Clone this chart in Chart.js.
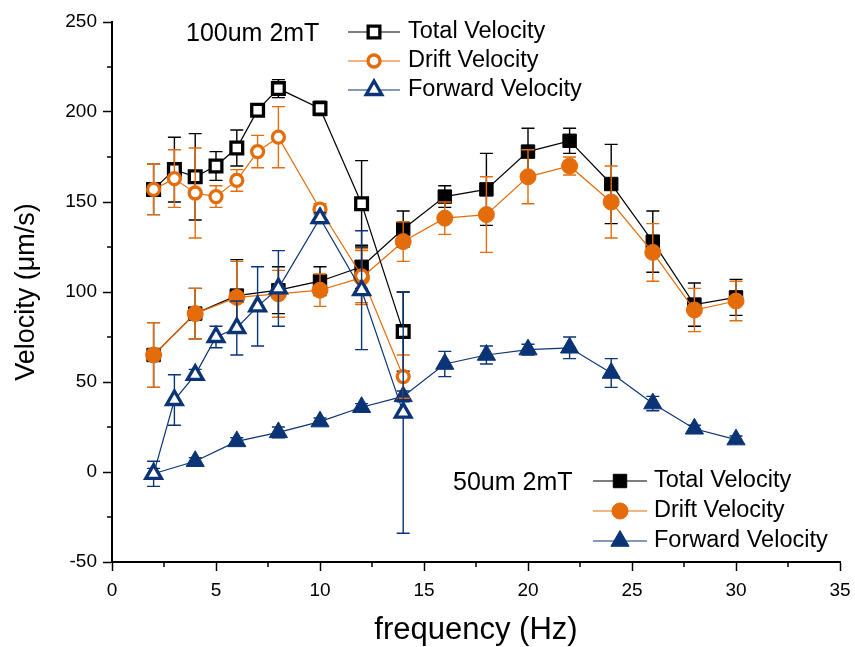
<!DOCTYPE html>
<html>
<head>
<meta charset="utf-8">
<script src="https://cdn.jsdelivr.net/npm/chart.js@4.4.0/dist/chart.umd.min.js"></script>
<style>
  html, body { margin: 0; padding: 0; background: #fff; }
</style>
</head>
<body>
<canvas id="chart" width="855" height="647"></canvas>
<script>
// ==== Data: 100um 2mT (open markers) ====
const freq100 = [2, 3, 4, 5, 6, 7, 8, 10, 12, 14];
const total100 = [157, 168, 164, 170, 180, 201, 213, 202, 149, 78];
const totalErr100 = [14, 18, 24, 8, 10, 3, 5, 4, 24, 22];
const drift100 = [157, 163, 155, 153, 162, 178, 186, 146, 109, 53];
const driftErr100 = [14, 16, 25, 6, 6, 9, 17, 3, 15, 12];
const fwd100 = [-1, 40, 54, 75, 80, 92, 102, 141, 101, 33];
const fwdErr100 = [7, 14, 3, 6, 15, 22, 21, 3, 33, 67];

// ==== Data: 50um 2mT (filled markers) ====
const freq50 = [2, 4, 6, 8, 10, 12, 14, 16, 18, 20, 22, 24, 26, 28, 30];
const total50 = [65, 88, 98, 101, 106, 114, 135, 153, 157, 178, 184, 160, 128, 93, 97];
const totalErr50 = [18, 14, 20, 13, 8, 12, 10, 6, 20, 13, 7, 22, 17, 12, 10];
const drift50 = [65, 88, 97, 99, 101, 108, 128, 141, 143, 164, 170, 150, 122, 90, 95];
const driftErr50 = [18, 14, 20, 13, 9, 15, 11, 9, 21, 15, 5, 20, 16, 12, 11];
const fwd50 = [-1, 6, 17, 22, 28, 36, 42, 60, 65, 68, 69, 55, 38, 24, 18];
const fwdErr50 = [3, 2, 2, 3, 2, 2, 3, 7, 5, 3, 6, 8, 4, 2, 2];

// ==== Axis / legend text ====
const xTitle = "frequency (Hz)";
const yTitle = "Velocity (\u03BCm/s)";
const group100 = "100um 2mT";
const group50 = "50um 2mT";
const seriesNames = ["Total Velocity", "Drift Velocity", "Forward Velocity"];

const BLACK = "#000000";
const ORANGE = "#E46C0A";
const BLUE = "#0B3476";
const FONT = "'Liberation Sans', Arial, sans-serif";

function pts(xs, ys) {
  return xs.map((x, i) => ({ x: x, y: ys[i] }));
}

// marker styles per series (kept apart from the data)
const styles = {
  total100: { pointStyle: "rect", radius: 8.3, fill: "#fff", color: BLACK, bw: 3.3 },
  drift100: { pointStyle: "circle", radius: 6, fill: "#fff", color: ORANGE, bw: 3.3 },
  fwd100: { pointStyle: "triangle", radius: 9, fill: "#fff", color: BLUE, bw: 3.3 },
  total50: { pointStyle: "rect", radius: 9.5, fill: BLACK, color: BLACK, bw: 1 },
  drift50: { pointStyle: "circle", radius: 8, fill: ORANGE, color: ORANGE, bw: 1 },
  fwd50: { pointStyle: "triangle", radius: 10.5, fill: BLUE, color: BLUE, bw: 1 }
};

function makeSet(label, xs, ys, errs, st, open) {
  return {
    label: label,
    data: pts(xs, ys),
    errors: errs,
    open: open,
    borderColor: st.color,
    backgroundColor: st.fill,
    borderWidth: 1.2,
    pointStyle: st.pointStyle,
    pointRadius: st.radius,
    pointBorderWidth: st.bw,
    pointBorderColor: st.color,
    pointBackgroundColor: st.fill,
    pointHoverRadius: st.radius,
    tension: 0,
    fill: false
  };
}

// index 0 is drawn on top
const datasets = [
  makeSet("100 Forward", freq100, fwd100, fwdErr100, styles.fwd100, true),
  makeSet("100 Drift", freq100, drift100, driftErr100, styles.drift100, true),
  makeSet("100 Total", freq100, total100, totalErr100, styles.total100, true),
  makeSet("50 Forward", freq50, fwd50, fwdErr50, styles.fwd50, false),
  makeSet("50 Drift", freq50, drift50, driftErr50, styles.drift50, false),
  makeSet("50 Total", freq50, total50, totalErr50, styles.total50, false)
];

// ==== Error bars ====
function drawErrors(chart, index) {
  const ds = chart.data.datasets[index];
  const meta = chart.getDatasetMeta(index);
  const yScale = chart.scales.y;
  const ctx = chart.ctx;
  ctx.save();
  ctx.strokeStyle = ds.borderColor;
  ctx.lineWidth = 1.4;
  meta.data.forEach((pt, i) => {
    const v = ds.data[i].y;
    const e = ds.errors[i];
    const top = yScale.getPixelForValue(v + e);
    const bot = yScale.getPixelForValue(v - e);
    const x = pt.x;
    ctx.beginPath();
    ctx.moveTo(x, top); ctx.lineTo(x, bot);
    ctx.moveTo(x - 6.5, top); ctx.lineTo(x + 6.5, top);
    ctx.moveTo(x - 6.5, bot); ctx.lineTo(x + 6.5, bot);
    ctx.stroke();
  });
  ctx.restore();
}

const errorBars = {
  id: "errorBars",
  beforeDatasetDraw(chart, args) {
    if (chart.data.datasets[args.index].open) drawErrors(chart, args.index);
  },
  afterDatasetDraw(chart, args) {
    if (!chart.data.datasets[args.index].open) drawErrors(chart, args.index);
  }
};

// ==== Minor ticks ====
const minorTicks = {
  id: "minorTicks",
  afterDraw(chart) {
    const ctx = chart.ctx;
    const xs = chart.scales.x, ys = chart.scales.y;
    const area = chart.chartArea;
    ctx.save();
    ctx.strokeStyle = BLACK;
    ctx.lineWidth = 1.5;
    ctx.beginPath();
    for (let v = 2.5; v < 35; v += 5) {
      const px = xs.getPixelForValue(v);
      ctx.moveTo(px, area.bottom); ctx.lineTo(px, area.bottom + 5);
    }
    for (let v = -25; v < 250; v += 50) {
      const py = ys.getPixelForValue(v);
      ctx.moveTo(area.left, py); ctx.lineTo(area.left - 5, py);
    }
    ctx.stroke();
    ctx.restore();
  }
};

// ==== Two legend blocks inside the plot ====
function drawBlock(chart, title, titleX, rowY, lineX0, lineX1, textX, setIdx) {
  const ctx = chart.ctx;
  ctx.save();
  ctx.textBaseline = "middle";
  ctx.textAlign = "left";
  ctx.fillStyle = BLACK;
  ctx.font = "25px " + FONT;
  ctx.fillText(title, titleX, rowY[0] + 2);
  ctx.font = "23.5px " + FONT;
  setIdx.forEach((di, r) => {
    const ds = chart.data.datasets[di];
    const y = rowY[r];
    ctx.strokeStyle = ds.borderColor;
    ctx.lineWidth = 1.2;
    ctx.beginPath();
    ctx.moveTo(lineX0, y); ctx.lineTo(lineX1, y);
    ctx.stroke();
    ctx.fillStyle = ds.pointBackgroundColor;
    ctx.strokeStyle = ds.pointBorderColor;
    ctx.lineWidth = ds.pointBorderWidth;
    Chart.helpers.drawPoint(ctx, {
      pointStyle: ds.pointStyle,
      radius: ds.pointRadius,
      rotation: 0,
      borderWidth: ds.pointBorderWidth
    }, (lineX0 + lineX1) / 2, y);
    ctx.fillStyle = BLACK;
    ctx.fillText(seriesNames[r], textX, y);
  });
  ctx.restore();
}

const legends = {
  id: "legends",
  afterDraw(chart) {
    drawBlock(chart, group100, 186, [32, 61, 90], 348, 400, 408, [2, 1, 0]);
    drawBlock(chart, group50, 453, [481, 511, 541], 593, 647, 654, [5, 4, 3]);
  }
};

Chart.defaults.font.family = FONT;
Chart.defaults.color = BLACK;

new Chart(document.getElementById("chart"), {
  type: "line",
  data: { datasets: datasets },
  plugins: [errorBars, minorTicks, legends],
  options: {
    responsive: false,
    animation: false,
    devicePixelRatio: 1,
    layout: { padding: { top: 22, right: 15, left: 0, bottom: 0 } },
    plugins: {
      legend: { display: false },
      tooltip: { enabled: false }
    },
    scales: {
      x: {
        type: "linear",
        min: 0,
        max: 35,
        ticks: { stepSize: 5, font: { size: 19 }, color: BLACK, padding: 8 },
        grid: { drawOnChartArea: false, drawTicks: true, tickLength: 9, tickWidth: 1.5, tickColor: BLACK },
        border: { color: BLACK, width: 2 },
        title: { display: true, text: xTitle, font: { size: 31, lineHeight: 1 }, color: BLACK, padding: { top: 0, bottom: 1 } },
        afterFit(scale) {
          scale.height = 85;
          scale.paddingRight = 0;
          scale.paddingLeft = 0;
        }
      },
      y: {
        type: "linear",
        min: -50,
        max: 250,
        ticks: { stepSize: 50, font: { size: 19 }, color: BLACK, padding: 6 },
        grid: { drawOnChartArea: false, drawTicks: true, tickLength: 9, tickWidth: 1.5, tickColor: BLACK },
        border: { color: BLACK, width: 2 },
        title: { display: true, text: yTitle, font: { size: 27, lineHeight: 1 }, color: BLACK, padding: { top: 13, bottom: 0 } },
        afterFit(scale) { scale.width = 112; }
      }
    }
  }
});
</script>
</body>
</html>
